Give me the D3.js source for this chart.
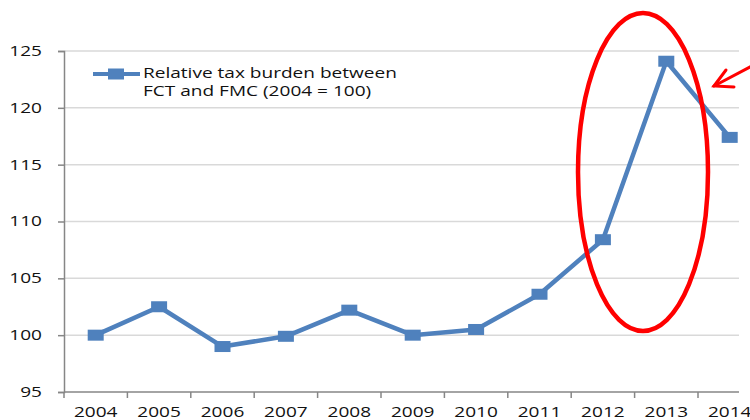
<!DOCTYPE html>
<html>
<head>
<meta charset="utf-8">
<script src="https://cdn.jsdelivr.net/npm/d3@7"></script>
<style>
  html, body { margin: 0; padding: 0; background: #fff; }
  svg { display: block; }
  text { font-family: "Open Sans", "Noto Sans", sans-serif; fill: #111; }
</style>
</head>
<body>
<svg id="chart" width="750" height="420"></svg>
<script>
// Relative tax burden between FCT and FMC, index 2004 = 100
const years = ["2004", "2005", "2006", "2007", "2008", "2009", "2010", "2011", "2012", "2013", "2014"];
const burden = [100.0, 102.5, 99.0, 99.9, 102.2, 100.0, 100.5, 103.6, 108.4, 124.1, 117.4];
const yTicks = [95, 100, 105, 110, 115, 120, 125];
const seriesName = ["Relative tax burden between", "FCT and FMC (2004 = 100)"];

const svg = d3.select("#chart");
const plotLeft = 64, plotTop = 51, plotBottom = 392;
const bandW = 63.4;
const plotEdge = 739;   // plot area is cut off here on the right
const stretch = 1.36;   // wide, horizontally stretched lettering
const mw = 16, mh = 11; // marker width / height

const x = d3.scaleBand().domain(years).range([plotLeft, plotLeft + bandW * years.length]).padding(0);
const y = d3.scaleLinear().domain([95, 125]).range([plotBottom, plotTop]);

function widen(sel) {
  sel.each(function () {
    const w = this.getComputedTextLength();
    d3.select(this).attr("textLength", w * stretch).attr("lengthAdjust", "spacingAndGlyphs");
  });
}

// horizontal gridlines
svg.append("g").selectAll("line").data(yTicks.filter(d => d > 95)).join("line")
  .attr("x1", plotLeft).attr("x2", plotEdge)
  .attr("y1", d => y(d)).attr("y2", d => y(d))
  .attr("stroke", "#d9d9d9").attr("stroke-width", 1.5);

// y axis
const yAxis = svg.append("g").attr("transform", `translate(${plotLeft},0)`)
  .call(d3.axisLeft(y).tickValues(yTicks).tickSize(6).tickPadding(16));
yAxis.select(".domain").attr("stroke", "#868686").attr("stroke-width", 1.5);
yAxis.selectAll(".tick line").attr("stroke", "#868686").attr("stroke-width", 1.5);
yAxis.selectAll("text").style("font-size", "14px").attr("fill", "#111")
  .attr("font-family", null).call(widen);

// x axis with tick marks between categories
const xAxis = svg.append("g").attr("transform", `translate(0,${plotBottom})`);
xAxis.append("line").attr("x1", plotLeft).attr("x2", plotEdge)
  .attr("stroke", "#868686").attr("stroke-width", 1.5);
const edges = d3.range(years.length + 1).map(i => plotLeft + i * x.bandwidth())
  .filter(e => e <= plotEdge);
xAxis.selectAll("line.tk").data(edges).join("line").attr("class", "tk")
  .attr("x1", d => d).attr("x2", d => d).attr("y1", 0).attr("y2", 6)
  .attr("stroke", "#868686").attr("stroke-width", 1.5);
xAxis.selectAll("text").data(years).join("text")
  .attr("x", d => x(d) + x.bandwidth() / 2).attr("y", 25)
  .attr("text-anchor", "middle").style("font-size", "14px")
  .text(d => d).call(widen);

// series line and markers
const cx = d => x(d) + x.bandwidth() / 2;
const pts = years.map((yr, i) => [cx(yr), y(burden[i])]);
svg.append("path").attr("d", d3.line()(pts))
  .attr("fill", "none").attr("stroke", "#4f81bd").attr("stroke-width", 4.5)
  .attr("stroke-linejoin", "round");
svg.append("g").selectAll("rect").data(pts).join("rect")
  .attr("x", d => d[0] - mw / 2).attr("y", d => d[1] - mh / 2)
  .attr("width", mw).attr("height", mh).attr("fill", "#4f81bd");

// legend
const lg = svg.append("g");
lg.append("line").attr("x1", 93).attr("x2", 140).attr("y1", 74).attr("y2", 74)
  .attr("stroke", "#4f81bd").attr("stroke-width", 4);
lg.append("rect").attr("x", 116 - mw / 2).attr("y", 74 - mh / 2).attr("width", mw).attr("height", mh)
  .attr("fill", "#4f81bd");
lg.selectAll("text").data(seriesName).join("text")
  .attr("x", 143).attr("y", (d, i) => 78 + i * 18)
  .style("font-size", "14px").text(d => d).call(widen);

// red highlight ellipse and arrow
svg.append("ellipse").attr("cx", 643).attr("cy", 172).attr("rx", 65).attr("ry", 159)
  .attr("fill", "none").attr("stroke", "#ff0000").attr("stroke-width", 4.5);
const arrow = svg.append("g").attr("stroke", "#ff0000").attr("stroke-width", 3)
  .attr("fill", "none").attr("stroke-linecap", "round");
arrow.append("line").attr("x1", 752).attr("y1", 66).attr("x2", 714).attr("y2", 86);
arrow.append("polyline").attr("points", "726,70 714,86 734,87");
</script>
</body>
</html>
